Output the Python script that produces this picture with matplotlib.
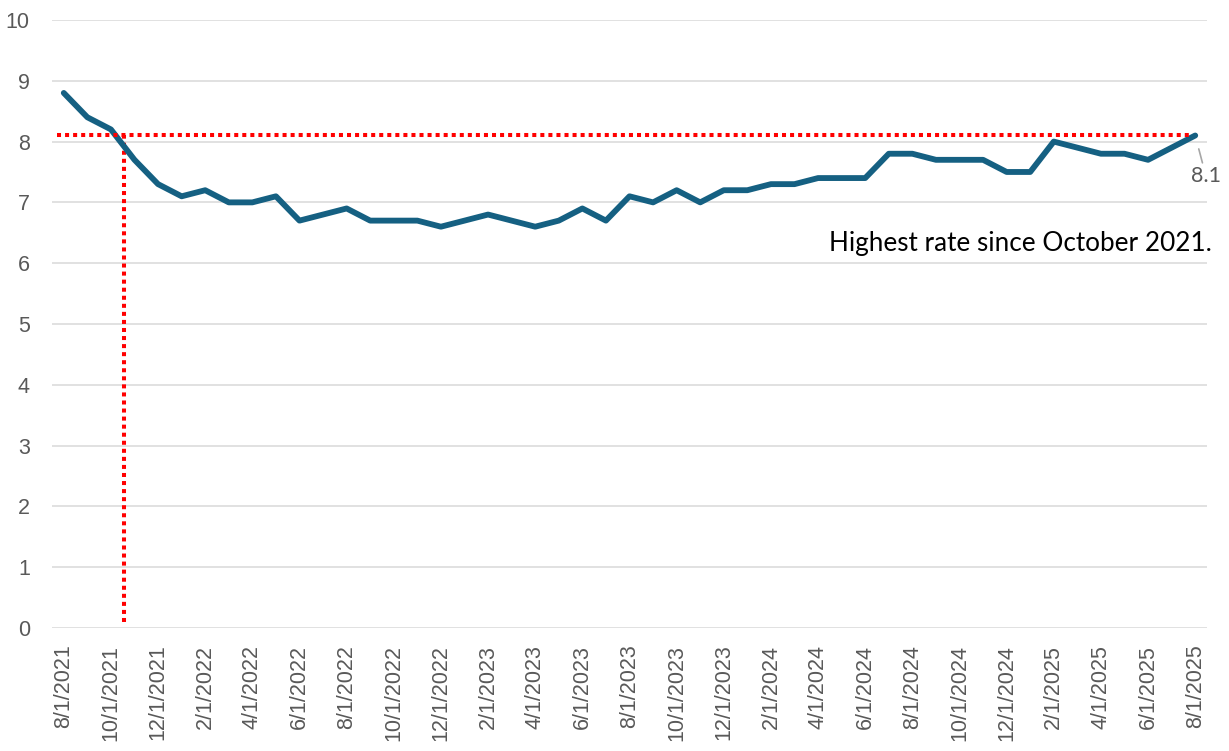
import matplotlib
matplotlib.use("Agg")
import matplotlib.pyplot as plt

# ---- data ----
dates = [
    "8/1/2021", "9/1/2021", "10/1/2021", "11/1/2021", "12/1/2021",
    "1/1/2022", "2/1/2022", "3/1/2022", "4/1/2022", "5/1/2022", "6/1/2022",
    "7/1/2022", "8/1/2022", "9/1/2022", "10/1/2022", "11/1/2022", "12/1/2022",
    "1/1/2023", "2/1/2023", "3/1/2023", "4/1/2023", "5/1/2023", "6/1/2023",
    "7/1/2023", "8/1/2023", "9/1/2023", "10/1/2023", "11/1/2023", "12/1/2023",
    "1/1/2024", "2/1/2024", "3/1/2024", "4/1/2024", "5/1/2024", "6/1/2024",
    "7/1/2024", "8/1/2024", "9/1/2024", "10/1/2024", "11/1/2024", "12/1/2024",
    "1/1/2025", "2/1/2025", "3/1/2025", "4/1/2025", "5/1/2025", "6/1/2025",
    "7/1/2025", "8/1/2025",
]
values = [
    8.8, 8.4, 8.2, 7.7, 7.3,
    7.1, 7.2, 7.0, 7.0, 7.1, 6.7,
    6.8, 6.9, 6.7, 6.7, 6.7, 6.6,
    6.7, 6.8, 6.7, 6.6, 6.7, 6.9,
    6.7, 7.1, 7.0, 7.2, 7.0, 7.2,
    7.2, 7.3, 7.3, 7.4, 7.4, 7.4,
    7.8, 7.8, 7.7, 7.7, 7.7, 7.5,
    7.5, 8.0, 7.9, 7.8, 7.8, 7.7,
    7.9, 8.1,
]
yticks = [0, 1, 2, 3, 4, 5, 6, 7, 8, 9, 10]
ref_level = 8.1
ref_x = 2.55
annotation = "Highest rate since October 2021."
last_label = "8.1"

# ---- figure ----
fig = plt.figure(figsize=(12.29, 7.51), dpi=100)
ax = fig.add_axes([0.0423, 0.1638, 0.9398, 0.8096])

x = list(range(len(dates)))
ax.set_xlim(-0.5, len(dates) - 0.5)
ax.set_ylim(0, 10)

ax.set_yticks(yticks)
ax.set_yticklabels([str(t) for t in yticks])
ax.yaxis.grid(True, color="#D9D9D9", linewidth=1.1, zorder=0)
ax.set_axisbelow(True)
for s in ax.spines.values():
    s.set_visible(False)

ax.set_xticks(x[::2])
ax.set_xticklabels(dates[::2], rotation=90, ha="center", va="top")
ax.tick_params(axis="x", length=0, pad=12, labelsize=15.5, labelcolor="#595959")
ax.tick_params(axis="y", length=0, pad=16, labelsize=15.5, labelcolor="#595959")
for lbl in ax.get_xticklabels() + ax.get_yticklabels():
    lbl.set_fontfamily("Liberation Sans")

# main line
ax.plot(x, values, color="#156082", linewidth=4.2, solid_joinstyle="round",
        solid_capstyle="round", zorder=3)

# reference dotted lines
ax.plot([-0.3, len(dates) - 1.2], [ref_level, ref_level], color="#FF0000",
        linewidth=2.9, linestyle=(0, (1, 1)), dash_capstyle="butt", zorder=4)
ax.plot([ref_x, ref_x], [0.1, ref_level], color="#FF0000",
        linewidth=2.9, linestyle=(0, (1, 1)), dash_capstyle="butt", zorder=2)

# last-value label with leader
ax.annotate(last_label, xy=(x[-1], values[-1]), xytext=(x[-1] + 0.45, values[-1] - 0.66),
            ha="center", va="center", fontsize=15.5, color="#595959",
            fontfamily="Lato",
            arrowprops=dict(arrowstyle="-", color="#A6A6A6", lw=1.2,
                            shrinkA=0, shrinkB=10),
            annotation_clip=False)

ax.text(48.7, 6.33, annotation, ha="right", va="center", fontsize=18.8,
        color="black", fontfamily="Lato", clip_on=False)

fig.savefig("out.png", dpi=100)
